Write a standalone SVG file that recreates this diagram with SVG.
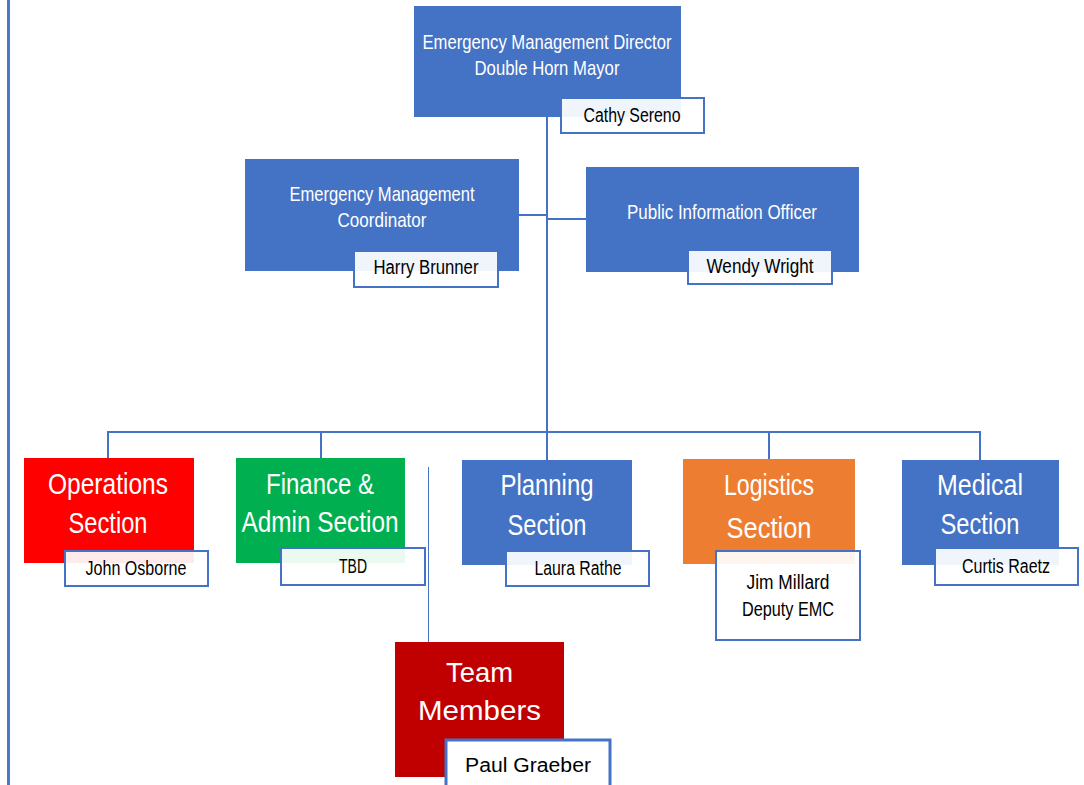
<svg xmlns="http://www.w3.org/2000/svg" width="1084" height="785" viewBox="0 0 1084 785">
<style>
.box{stroke:none}
.blue{fill:#4472C4}
.name{fill:#ffffff;fill-opacity:0.92;stroke:#4472C4;stroke-width:2}
.t{font-family:"Liberation Sans",Arial,sans-serif;fill:#ffffff;text-anchor:middle}
.tm{font-size:21px}
.ts{font-size:30px}
.n{font-family:"Liberation Sans",Arial,sans-serif;fill:#000000;text-anchor:middle;font-size:20px}
.c{stroke:#4472C4;stroke-width:2;fill:none}
</style>
<rect width="1084" height="785" fill="#ffffff"/>
<g id="connectors">
<line x1="8.5" y1="0" x2="8.5" y2="785" stroke="#4A78CC" stroke-width="3"/>
<line class="c" x1="547" y1="117" x2="547" y2="432"/>
<line class="c" x1="519" y1="215" x2="547" y2="215"/>
<line class="c" x1="547" y1="219" x2="586" y2="219"/>
<polyline class="c" points="108,458 108,432 980,432 980,460"/>
<line class="c" x1="321" y1="432" x2="321" y2="458"/>
<line class="c" x1="769" y1="432" x2="769" y2="459"/>
<line class="c" x1="547" y1="432" x2="547" y2="460"/>
<line x1="428.5" y1="467" x2="428.5" y2="642" stroke="#4472C4" stroke-width="1"/>
</g>
<g id="director">
<rect class="box blue" x="414" y="6" width="267" height="111"/>
<text class="t tm" x="547" y="49" textLength="249" lengthAdjust="spacingAndGlyphs">Emergency Management Director</text>
<text class="t tm" x="547" y="75" textLength="145" lengthAdjust="spacingAndGlyphs">Double Horn Mayor</text>
<rect class="name" x="561" y="98" width="143" height="35"/>
<text class="n" x="632" y="122" textLength="97" lengthAdjust="spacingAndGlyphs">Cathy Sereno</text>
</g>
<g id="coordinator">
<rect class="box blue" x="245" y="159" width="274" height="112"/>
<text class="t tm" x="382" y="201" textLength="185" lengthAdjust="spacingAndGlyphs">Emergency Management</text>
<text class="t tm" x="382" y="227" textLength="89" lengthAdjust="spacingAndGlyphs">Coordinator</text>
<rect class="name" x="354" y="251" width="144" height="36"/>
<text class="n" x="426" y="274" textLength="105" lengthAdjust="spacingAndGlyphs">Harry Brunner</text>
</g>
<g id="pio">
<rect class="box blue" x="586" y="167" width="273" height="105"/>
<text class="t tm" x="722" y="219" textLength="190" lengthAdjust="spacingAndGlyphs">Public Information Officer</text>
<rect class="name" x="688" y="250" width="144" height="34"/>
<text class="n" x="760" y="273" textLength="107" lengthAdjust="spacingAndGlyphs">Wendy Wright</text>
</g>
<g id="operations">
<rect class="box" x="24" y="458" width="170" height="105" fill="#FF0000"/>
<text class="t ts" x="108" y="494" textLength="120" lengthAdjust="spacingAndGlyphs">Operations</text>
<text class="t ts" x="108" y="533" textLength="79" lengthAdjust="spacingAndGlyphs">Section</text>
<rect class="name" x="65" y="551" width="143" height="35"/>
<text class="n" x="136" y="575" textLength="101" lengthAdjust="spacingAndGlyphs">John Osborne</text>
</g>
<g id="finance">
<rect class="box" x="236" y="458" width="169" height="105" fill="#00B050"/>
<text class="t ts" x="320" y="494" textLength="108" lengthAdjust="spacingAndGlyphs">Finance &amp;</text>
<text class="t ts" x="320" y="532" textLength="157" lengthAdjust="spacingAndGlyphs">Admin Section</text>
<rect class="name" x="281" y="548" width="144" height="37"/>
<text class="n" x="353" y="573" textLength="28" lengthAdjust="spacingAndGlyphs">TBD</text>
</g>
<g id="planning">
<rect class="box blue" x="462" y="460" width="170" height="105"/>
<text class="t ts" x="547" y="495" textLength="93" lengthAdjust="spacingAndGlyphs">Planning</text>
<text class="t ts" x="547" y="535" textLength="79" lengthAdjust="spacingAndGlyphs">Section</text>
<rect class="name" x="506" y="551" width="143" height="35"/>
<text class="n" x="578" y="575" textLength="87" lengthAdjust="spacingAndGlyphs">Laura Rathe</text>
</g>
<g id="logistics">
<rect class="box" x="683" y="459" width="172" height="105" fill="#ED7D31"/>
<text class="t ts" x="769" y="495" textLength="90" lengthAdjust="spacingAndGlyphs">Logistics</text>
<text class="t ts" x="769" y="538" textLength="85" lengthAdjust="spacingAndGlyphs">Section</text>
<rect class="name" x="716" y="551" width="144" height="89"/>
<text class="n" x="788" y="589" textLength="83" lengthAdjust="spacingAndGlyphs">Jim Millard</text>
<text class="n" x="788" y="616" textLength="92" lengthAdjust="spacingAndGlyphs">Deputy EMC</text>
</g>
<g id="medical">
<rect class="box blue" x="902" y="460" width="157" height="105"/>
<text class="t ts" x="980" y="495" textLength="86" lengthAdjust="spacingAndGlyphs">Medical</text>
<text class="t ts" x="980" y="534" textLength="79" lengthAdjust="spacingAndGlyphs">Section</text>
<rect class="name" x="935" y="548" width="143" height="37"/>
<text class="n" x="1006" y="573" textLength="88" lengthAdjust="spacingAndGlyphs">Curtis Raetz</text>
</g>
<g id="team">
<rect class="box" x="395" y="642" width="169" height="135" fill="#C00000"/>
<text class="t" x="479.5" y="682" font-size="28" textLength="67" lengthAdjust="spacingAndGlyphs">Team</text>
<text class="t" x="479.5" y="720" font-size="28" textLength="123" lengthAdjust="spacingAndGlyphs">Members</text>
<rect x="446" y="740" width="164" height="50" fill="#ffffff" stroke="#4472C4" stroke-width="3"/>
<text class="n" x="528" y="772" font-size="21" textLength="126" lengthAdjust="spacingAndGlyphs">Paul Graeber</text>
</g>
</svg>
